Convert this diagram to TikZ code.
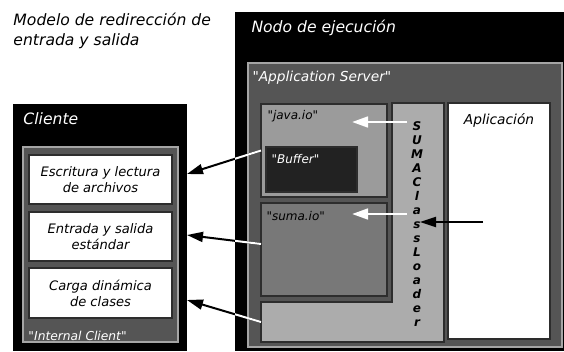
\documentclass[tikz,border=0pt]{standalone}
\usepackage{fontspec}
\setmainfont{DejaVu Sans}
\usetikzlibrary{arrows.meta}

\definecolor{panelgray}{RGB}{85,85,85}
\definecolor{rimgray}{RGB}{165,165,165}
\definecolor{javagray}{RGB}{155,155,155}
\definecolor{loadgray}{RGB}{172,172,172}
\definecolor{sumagray}{RGB}{120,120,120}
\definecolor{buffergray}{RGB}{34,34,34}
\definecolor{edgegray}{RGB}{45,45,45}

\newcommand{\qt}[1]{\textquotedbl#1\textquotedbl}

\tikzset{every picture/.style={line width=0.75pt}}
\tikzset{
  panel/.style={rectangle, anchor=north west, inner sep=0pt, outer sep=0pt},
  wh/.style 2 args={minimum width=#1*0.75pt, minimum height=#2*0.75pt},
  bigtxt/.style={anchor=base west, inner sep=0.75pt, font=\fontsize{11.7}{14}\selectfont\itshape},
  midtxt/.style={anchor=base west, inner sep=0.75pt, font=\fontsize{10.3}{12}\selectfont\itshape},
  smalltxt/.style={anchor=base west, inner sep=0.75pt, font=\fontsize{9}{11}\selectfont\itshape},
  boxtxt/.style={align=center, font=\fontsize{9.8}{12}\selectfont\itshape},
  outarrow/.style={line width=1.5pt, -{Triangle[length=12pt, width=7.5pt]}},
  inarrow/.style={line width=2pt, -{Triangle[length=12pt, width=8pt]}},
}

\begin{document}
\begin{tikzpicture}[x=0.75pt,y=0.75pt,yscale=-1,xscale=1]
\useasboundingbox (0,0) rectangle (564,351);

%Shape: Rectangle
\node[panel, fill=black, wh={174}{247}] (cliente) at (13,104) {};
%Shape: Rectangle
\node[panel, fill=panelgray, draw=rimgray, line width=1pt, wh={155}{195}] (interno) at (23,147) {};
%Shape: Rectangle
\node[panel, fill=white, draw=edgegray, line width=1pt, wh={143}{49}, boxtxt] (escritura) at (29,155) {Escritura y lectura\\de archivos};
%Shape: Rectangle
\node[panel, fill=white, draw=edgegray, line width=1pt, wh={143}{49}, boxtxt] (entrada) at (29,212) {Entrada y salida\\estándar};
%Shape: Rectangle
\node[panel, fill=white, draw=edgegray, line width=1pt, wh={143}{50}, boxtxt] (carga) at (29,268) {Carga dinámica\\de clases};

%Shape: Rectangle
\node[panel, fill=black, wh={329}{339}] (nodo) at (235,12) {};
%Shape: Rectangle
\node[panel, fill=panelgray, draw=rimgray, line width=1.2pt, wh={314}{284}] (server) at (248,63) {};
%Shape: Rectangle
\node[panel, fill=javagray, draw=edgegray, line width=1.2pt, wh={126}{93}] (javaio) at (261,104) {};
%Shape: Rectangle
\node[panel, fill=buffergray, draw=edgegray, line width=1pt, wh={91}{45}] (buffer) at (266,147) {};
%Shape: Rectangle
\node[panel, fill=sumagray, draw=edgegray, line width=1.2pt, wh={126}{93}] (sumaio) at (261,203) {};
%Shape: Rectangle
\node[panel, fill=loadgray, wh={52}{239}] (loader) at (392,103) {};
\node[panel, fill=loadgray, wh={183}{40}] (barra) at (261,302) {};
\draw[edgegray, line width=1.2pt] (loader.north west) -- (loader.north east) -- (loader.south east) -- (barra.south west) -- (barra.north west) -- (loader.west |- barra.north) -- cycle;
%Shape: Rectangle
\node[panel, fill=white, draw=edgegray, line width=1.2pt, wh={102}{236}] (aplic) at (448,103) {};

% Text Node
\draw (12,25) node [bigtxt] (titulo1) {Modelo de redirección de};
% Text Node
\draw (12,45) node [bigtxt] (titulo2) {entrada y salida};
% Text Node
\draw (250,32) node [bigtxt, white] (nodotxt) {Nodo de ejecución};
% Text Node
\draw (22,124) node [bigtxt, white] (clientetxt) {Cliente};
% Text Node
\draw (251,81) node [midtxt, white] (servertxt) {\qt{Application Server}};
% Text Node
\draw (266,119) node [smalltxt] (javatxt) {\qt{java.io}};
% Text Node
\draw (270,163) node [smalltxt, white] (buffertxt) {\qt{Buffer}};
% Text Node
\draw (265,220) node [smalltxt] (sumatxt) {\qt{suma.io}};
% Text Node
\draw (27,340) node [midtxt, white, font=\fontsize{9.2}{11}\selectfont\itshape] (internotxt) {\qt{Internal Client}};
% Text Node
\draw (499,124) node [midtxt, anchor=base] (aplictxt) {Aplicación};
% Text Node
\foreach \c [count=\i] in {S,U,M,A,C,l,a,s,s,L,o,a,d,e,r}
  \draw (417,{130+14*(\i-1)}) node [smalltxt, anchor=base, font=\fontsize{9}{11}\selectfont\bfseries\itshape] (cl\i) {\c};

%Straight Lines
\coordinate (inA) at (187,174);
\coordinate (inB) at (187,235);
\coordinate (inC) at (187,300);
\foreach \s/\t in {javaio.west/inA, sumaio.175/inB, barra.west/inC}
  \draw[outarrow] (\s) -- (\t);
\begin{scope}
\clip (nodo.north west) rectangle (nodo.south east);
\foreach \s/\t in {javaio.west/inA, sumaio.175/inB, barra.west/inC}
  \draw[white, line width=1.5pt] (\s) -- (\t);
\end{scope}

%Straight Lines
\coordinate (javaout) at (407,122);
\coordinate (javain) at (352,122);
\coordinate (sumaout) at (407,214);
\coordinate (sumain) at (352,214);
\draw[inarrow, white] (javaout) -- (javain);
\draw[inarrow, white] (sumaout) -- (sumain);
%Straight Lines
\coordinate (aplicout) at (483,222);
\coordinate (loaderin) at (420,222);
\draw[outarrow] (aplicout) -- (loaderin);

\end{tikzpicture}
\end{document}
